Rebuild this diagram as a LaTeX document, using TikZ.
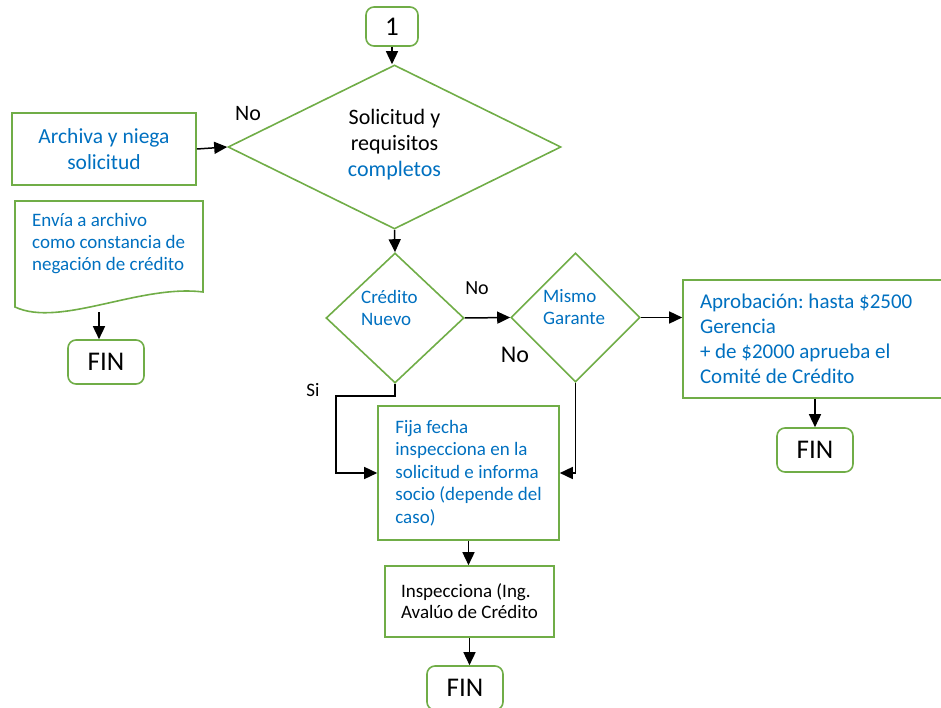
\documentclass[tikz,border=0pt]{standalone}
\usepackage{fontspec}
\setmainfont{Carlito}
\usepackage{tikz}
\usetikzlibrary{positioning,arrows.meta,shapes.geometric}
\usepackage{xcolor}
\definecolor{verde}{HTML}{70AD47}
\definecolor{azul}{HTML}{0070C0}
\frenchspacing

\begin{document}
\begin{tikzpicture}[x=1pt, y=-1pt,
  caja/.style={draw=verde, line width=1.6pt, inner sep=0pt},
  fin/.style={caja, rounded corners=8pt, minimum width=76pt, minimum height=44pt, font=\fontsize{27}{30}\selectfont},
  rombo/.style={draw=verde, line width=1.6pt, diamond, inner sep=0pt},
  flecha/.style={line width=1.5pt, -{Triangle[length=13pt,width=12pt]}},
  texto/.style={inner sep=0pt, align=left, font=\fontsize{19}{22}\selectfont}]
\clip (0,0) rectangle (941,708);
% inicio y primera decision
\node[fin, minimum width=52pt, minimum height=39pt] (uno) at (392,26.5) {\raisebox{-6pt}{1}};
\node[rombo, minimum width=333pt, minimum height=164pt] (sol) at (394.5,147) {};
\node[align=center, font=\fontsize{22}{26}\selectfont] (soltxt) at (394.5,145) {Solicitud y\\requisitos\\\textcolor{azul}{completos}};
\node[font=\fontsize{22}{24}\selectfont] (no1) at (248,114) {No};
% rama izquierda
\node[caja, minimum width=184pt, minimum height=72pt, align=center, text=azul, font=\fontsize{21.5}{26}\selectfont] (archiva) at (104,149) {Archiva y niega\\solicitud};
\draw[verde, line width=1.6pt] (15,201) -- (203,201) -- (203,292) .. controls (140,284) and (60,328) .. (15,307) -- cycle;
\node[texto, anchor=west, text=azul] (envia) at (32,244) {Envía a archivo\\como constancia de\\negación de crédito};
\coordinate (enviapie) at (99,312);
\node[fin] (fin1) at (106,362) {\raisebox{-4pt}{FIN}};
% credito y garante
\node[rombo, minimum width=138pt, minimum height=130pt] (cred) at (395,318) {};
\node[texto, anchor=west, text=azul] (credtxt) at (361,307.5) {Crédito\\Nuevo};
\node[rombo, minimum width=129pt, minimum height=129pt] (mismo) at (575.5,317.5) {};
\node[texto, anchor=west, text=azul] (mismotxt) at (543,307.5) {Mismo\\Garante};
\node[font=\fontsize{20}{22}\selectfont] (no2) at (477,288) {No};
\node[font=\fontsize{24}{26}\selectfont] (no3) at (515,355) {No};
\node[font=\fontsize{19}{21}\selectfont] (si) at (313,390) {Si};
% aprobacion
\node[caja, minimum width=264pt, minimum height=118pt, text width=230pt, inner xsep=17pt, align=flush left, text=azul, font=\fontsize{21}{25}\selectfont] (aprob) at (815,339) {Aprobación: hasta \$2500\\Gerencia\\+ de \$2000 aprueba el\\Comité de Crédito};
\node[fin] (fin3) at (815,450) {\raisebox{-4pt}{FIN}};
% inspeccion
\node[caja, minimum width=181pt, minimum height=134pt, align=left, text=azul, font=\fontsize{19}{22.5}\selectfont] (fija) at (468.5,473) {Fija fecha\\inspecciona en la\\solicitud e informa\\socio (depende del\\caso)};
\node[caja, minimum width=169pt, minimum height=71pt, align=left, font=\fontsize{19}{21}\selectfont] (insp) at (469.5,601.5) {Inspecciona (Ing.\\Avalúo de Crédito};
\node[fin] (fin4) at (465,688) {\raisebox{-4pt}{FIN}};
% conectores
\draw[flecha] (uno.south) -- (uno.south |- sol.north);
\draw[flecha] (archiva.east) -- (sol.west);
\draw[flecha] (enviapie) -- (enviapie |- fin1.north);
\draw[flecha] (sol.south) -- (cred.north);
\draw[flecha] (cred.east) -- (mismo.west);
\draw[flecha] (mismo.east) -- (mismo.east -| aprob.west);
\draw[flecha] (aprob.south) -- (fin3.north);
\draw[flecha] (cred.south) -- ++(0,12) -| ([xshift=-41pt]fija.west) -- (fija.west);
\draw[flecha] (mismo.south) |- (fija.east);
\draw[flecha] (fija.south) -- (fija.south |- insp.north);
\draw[flecha] (insp.south) -- (insp.south |- fin4.north);
\end{tikzpicture}
\end{document}
